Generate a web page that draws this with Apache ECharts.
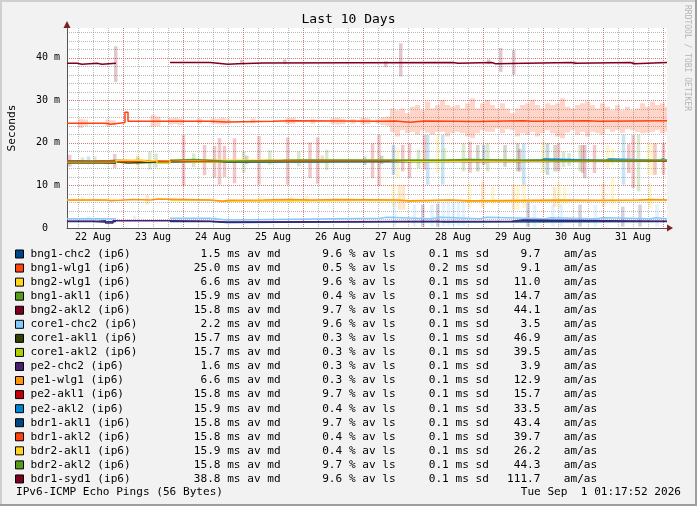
<!DOCTYPE html>
<html>
<head>
<meta charset="utf-8">
<script src="https://cdn.jsdelivr.net/npm/echarts@6.0.0/dist/echarts.min.js"></script>
<style>
  html, body { margin: 0; padding: 0; background: #f2f2f2; }
  #chart { width: 697px; height: 506px; }
</style>
</head>
<body>
<div id="chart"></div>
<script>
'use strict';
// smokeping multi-host graph, last 10 days
// time unit = hours since 22 Aug 00:00
var T0 = 1.6, T_END = 241.6;
var MONO = '"DejaVu Sans Mono"';

var hosts = ['bng1-chc2 (ip6)', 'bng1-wlg1 (ip6)', 'bng2-wlg1 (ip6)', 'bng1-akl1 (ip6)', 'bng2-akl2 (ip6)',
    'core1-chc2 (ip6)', 'core1-akl1 (ip6)', 'core1-akl2 (ip6)', 'pe2-chc2 (ip6)', 'pe1-wlg1 (ip6)',
    'pe2-akl1 (ip6)', 'pe2-akl2 (ip6)', 'bdr1-akl1 (ip6)', 'bdr1-akl2 (ip6)', 'bdr2-akl1 (ip6)',
    'bdr2-akl2 (ip6)', 'bdr1-syd1 (ip6)'];
var hostColors = ['#004586', '#ff420e', '#ffd320', '#579d1c', '#7e0021', '#83caff', '#314004', '#aecf00',
    '#4b1f6f', '#ff950e', '#c5000b', '#0084d1', '#004586', '#ff420e', '#ffd320', '#579d1c', '#7e0021'];

// legend statistics
var avgMedian = [1.5, 25.0, 6.6, 15.9, 15.8, 2.2, 15.7, 15.7, 1.6, 6.6, 15.8, 15.9, 15.8, 15.8, 15.9, 15.8, 38.8];
var avgLoss   = [9.6, 0.5, 9.6, 0.4, 9.7, 9.6, 0.3, 0.3, 0.3, 0.3, 9.7, 0.4, 9.7, 0.4, 0.4, 9.7, 9.6];
var avgSd     = [0.1, 0.2, 0.1, 0.1, 0.1, 0.1, 0.1, 0.1, 0.1, 0.1, 0.1, 0.1, 0.1, 0.1, 0.1, 0.1, 0.1];
var amAs      = [9.7, 9.1, 11.0, 14.7, 44.1, 3.5, 46.9, 39.5, 3.9, 12.9, 15.7, 33.5, 43.4, 39.7, 26.2, 44.3, 111.7];

// median rtt (ms), [hour, value] where the value changes; null = no answer
var medBng1Chc2 = [[1.6,1.5],[12,1.4],[16,1.5],[21.2,null],[42.8,1.5],[58.8,1.3],[65.6,1.5],[150,1.4],[152,1.5]];
var medBng1Wlg1 = [[1.6,24.6],[17,24.4],[19.2,24.8],[24.8,27.2],[26.0,25.1],[58.8,24.9],[65.6,25.1],[84,25.2],[92,25.1],
    [128,25.15],[132.8,24.85],[138.8,25.15],[144.8,25.0],[165.5,25.2],[184,25.1],[188,25.2],[210,25.1],[214,25.2]];
var medBng2Wlg1 = [[1.6,6.5],[21.2,null],[42.8,6.5],[58.8,6.3],[65.6,6.5],[133.5,6.3],[138.8,6.5],[154.8,6.2],[163.5,6.5]];
var medBng1Akl1 = [[1.6,15.5],[10,15.6],[21.2,15.7],[30,15.6],[42.8,15.8],[100,15.9],[160,15.8],[200,15.9]];
var medBng2Akl2 = [[1.6,15.3],[14,15.2],[21.2,null],[42.8,15.8],[160,15.7],[200,15.8]];
var medCore1Chc2 = [[1.6,2.2],[21.2,null],[42.8,2.3],[58.8,1.9],[65.6,2.3],[126.8,2.5],[129.6,2.2],[147,2.5],[151,2.2],
    [166.8,2.5],[169.6,2.2],[193,2.4],[195,2.2],[213,2.4],[216,2.2],[235,2.4],[237,2.2]];
var medCore1Akl1 = [[1.6,15.5],[22,15.3],[26,15.6],[50,15.7],[120,15.6],[180,15.7]];
var medCore1Akl2 = [[1.6,15.6],[24,15.9],[30,15.5],[50,15.7],[150,15.8],[200,15.7]];
var medPe2Chc2 = [[1.6,1.6],[14,1.7],[17,1.2],[20,1.7],[42.8,1.6],[58.8,1.4],[65.6,1.6],[179.5,1.9],[184,1.6]];
var medPe1Wlg1 = [[1.6,6.6],[17,6.4],[19.2,6.7],[28,6.6],[35,6.8],[38,6.6],[58.8,6.3],[64,6.5],[66,6.6],[80,6.7],[90,6.6],
    [100,6.7],[110,6.6],[133.5,6.4],[138.8,6.6],[154.8,6.4],[163.5,6.6],[200,6.5],[212,6.6],[230,6.7],[236,6.6]];
var medPe2Akl1 = [[1.6,15.7],[6,15.6],[12,15.8],[21.2,null],[42.8,15.8]];
var medPe2Akl2 = [[1.6,15.6],[14,15.8],[18,15.9],[22,15.7],[34,15.6],[36,15.5],[42.8,15.8],[60,15.7],[160,15.9],
    [190.8,16.2],[192.4,15.9],[216.8,16.2],[218.4,15.9],[238.4,16.2],[240,15.9]];
var medBdr1Akl1 = [[1.6,15.6],[8,15.5],[16,15.6],[21.2,null],[42.8,15.8],[58.8,15.5],[66,15.8]];
var medBdr1Akl2 = [[1.6,15.7],[10,15.8],[18,15.6],[26,15.7],[30,15.8],[32,15.6],[42.8,15.8],[155,15.6],[161.6,15.8]];
var medBdr2Akl1 = [[1.6,15.4],[21.2,15.9],[28,16.0],[30,15.7],[34,15.9],[37.6,15.2],[42.8,15.9],[130,15.6],[140,15.9]];
var medBdr2Akl2 = [[1.6,15.5],[21.2,null],[42.8,15.9],[44,16.1],[52,15.9],[58.8,15.7],[66,15.9],[88,16.0],[96,15.9],
    [150,16.0],[155,16.1],[161.6,15.9],[185,16.0],[190,15.8],[200,15.9],[215,15.8],[220,15.95]];
var medBdr1Syd1 = [[1.6,38.7],[5.6,38.5],[7.6,38.7],[13.6,38.5],[15.6,38.7],[21.2,null],[42.8,38.9],[58.8,38.5],[66,38.6],
    [70,38.8],[80,38.9],[156,38.7],[158,38.9],[171.5,38.6],[173,38.9],[203.5,38.7],[205,38.9],[227,38.6],[228.5,38.9]];

// smoke: [hour, low, high]
var smokeBng1Wlg1 = [[6,23.5,25.6],[8,24.0,25.5],[17,23.9,25.5],[19,24.2,25.3],[35,23.7,26.6],[37,24.0,26.2],[42,24.3,25.8],
    [44,24.4,25.9],[46,24.2,25.7],[53.6,24.5,25.7],[59,24.5,25.8],[61,24.4,25.7],[63,24.3,25.9],[65,24.5,25.6],[75,24.6,25.7],
    [89,24.4,25.8],[91,24.5,25.9],[99,24.5,25.6],[107,24.4,25.8],[109,24.3,25.9],[111,24.4,25.7],[115,24.5,25.6],[119,24.3,25.9],
    [121,24.4,25.8],[125,24.5,25.5],[127,24.2,26.0],[129,24.0,26.2],
    [130.8,22.6,28.1],[132.8,21.5,27.7],[134.8,23.0,28.1],[136.8,22.3,27.0],[138.8,22.6,28.5],[140.8,21.9,28.9],[142.8,23.0,27.7],
    [144.8,22.4,29.7],[146.8,21.9,28.1],[148.8,22.6,28.9],[150.8,22.6,30.1],[152.8,21.5,28.9],[154.8,22.3,28.5],[156.8,22.6,28.9],
    [158.8,22.3,28.1],[160.8,21.5,29.3],[162.8,21.1,30.5],[164.8,22.3,28.1],[166.8,23.0,29.3],[168.8,22.6,30.1],[170.8,22.6,28.9],
    [172.8,23.4,28.1],[174.8,22.3,29.3],[176.8,23.2,28.1],[178.8,23.0,27.0],[180.8,21.5,28.1],[182.8,22.3,28.9],[184.8,21.9,29.3],
    [186.8,22.6,30.1],[188.8,21.5,28.9],[190.8,22.3,28.1],[192.8,23.0,29.3],[194.8,22.3,28.9],[196.8,21.5,29.3],[198.8,21.1,30.5],
    [200.8,22.4,28.5],[202.8,23.0,28.1],[204.8,21.9,28.9],[206.8,22.6,29.3],[208.8,21.5,29.7],[210.8,22.6,28.9],[212.8,22.3,28.1],
    [214.8,21.9,29.3],[216.8,23.2,28.5],[218.8,22.6,27.7],[220.8,23.0,28.9],[222.8,22.4,27.7],[224.8,23.2,28.5],[226.8,23.0,27.7],
    [228.8,22.6,28.1],[230.8,22.3,29.3],[232.8,22.4,28.5],[234.8,22.6,29.7],[236.8,23.0,28.9],[238.8,22.3,29.3],[240.8,22.6,28.5]];
var smokePe2Akl1 = [[2.0,14.4,17.2],[20,14.1,17.4],[47.5,10.0,21.9],[55.9,12.4,19.5],[59.9,11.8,19.3],[61.9,10.2,21.1],
    [63.9,12.0,19.3],[67.9,10.5,21.1],[77.7,10.2,21.6],[89.2,10.2,21.3],[98.1,11.7,20.1],[101.2,10.4,21.3],[123.1,11.7,19.9],
    [125.7,9.9,21.9],[135.2,13.3,19.5],[137.9,11.7,19.9],[143.9,13.7,21.9],[162.1,13.0,20.3],[197.5,13.3,19.9],[207.1,12.9,19.5],
    [211.9,12.9,19.5],[225.6,12.9,19.7],[227.4,9.4,21.9],[236.1,12.5,19.9],[239.5,12.5,19.9]];
var smokeBng1Akl1 = [[7.1,15.2,16.6],[12,15.0,16.8],[34,13.7,18.0],[36.5,14.2,17.5],[51.6,14.3,17.5],[71.6,13.0,18.0],
    [82,14.9,18.3],[93.6,14.5,18.0],[104.8,13.6,18.4],[141.5,14.1,18.4],[159.5,13.3,19.9],[169.2,13.3,19.9],[199.5,14.3,18.0],
    [201.7,14.6,17.6],[206.1,13.3,19.5],[229.5,8.6,21.9]];
var smokeCore1Akl1 = [[72.8,15.0,17.0],[126.8,15.0,17.0],[165.2,13.3,19.5],[176.1,14.4,19.5],[181.2,13.3,19.9],[196.1,13.3,19.5]];
var smokeCore1Akl2 = [[152,15.4,18.8],[191.5,12.9,20.3]];
var smokePe2Akl2 = [[9.5,15.0,16.8],[29.2,14.8,16.8],[145.2,10.2,21.9],[151.2,10.2,21.9],[183.6,10.2,19.9],[223.5,10.2,21.9]];
var smokeBdr1Akl1 = [[120,14.8,16.8],[131.5,12.5,19.5],[167.6,14.8,19.5],[193.1,12.5,19.9]];
var smokeBng2Akl2 = [[182,13.3,18.6],[208,11.7,19.5]];
var smokeBdr2Akl1 = [[29.2,13.9,17.4],[133.2,11.7,18.8],[149.2,12.9,21.9],[217.2,14.1,19.5],[219.1,14.8,18.6],[233.5,12.5,19.9],
    [235,12.5,19.9]];
var smokeBdr1Akl2 = [[103,15.3,17.0]];
var smokePe1Wlg1 = [[33,5.5,7.8],[133.9,4.3,10.2],[135.5,4.3,10.2],[167.2,4.7,10.9],[179.5,4.3,10.2],[195.9,5.0,9.6],[215.5,5.0,10.5]];
var smokeBng2Wlg1 = [[7.1,6.6,7.4],[78,5.8,7.6],[90.8,5.9,7.5],[96.8,5.8,7.6],[131.5,5.1,10.2],[161.9,4.7,10.5],[171.2,5.5,9.6],
    [181.2,4.3,10.2],[183.7,4.7,10.5],[197.7,4.7,10.9],[199.9,5.5,9.6],[219.1,5.5,11.7],[234.1,4.7,10.5]];
var smokeCore1Chc2 = [[9.5,2.0,2.8],[28,2.0,2.9],[60,1.8,2.8],[131.9,0.3,6.2],[139.9,0.3,5.5],[146.9,0.3,5.5],[151.5,0.3,6.0],
    [153.5,0.5,6.0],[155.5,0.5,6.0],[157.5,0.5,6.0],[159.5,0.5,6.0],[187.9,0.3,5.5],[195.3,0.3,5.5],[198.6,0.3,5.5],
    [212.3,0.3,5.5],[236.9,0.3,5.5]];
var smokePe2Chc2 = [[143.2,0.3,5.5],[149.2,0.3,5.7],[185.3,0.3,5.9],[206.1,0.3,5.5],[223.2,0.3,5.0],[230.1,0.3,5.5]];
var smokeBdr1Syd1 = [[20.4,34.3,42.7],[70.8,38.8,39.5],[88,38.5,39.6],[128.4,37.8,39.2],[134.4,35.6,43.4],[169.6,38.5,39.6],
    [174.4,36.7,42.3],[179.6,36.0,41.8],[204,38.4,39.2],[227.6,38.4,39.2]];

var medians = [medBng1Chc2, medBng1Wlg1, medBng2Wlg1, medBng1Akl1, medBng2Akl2, medCore1Chc2, medCore1Akl1, medCore1Akl2,
    medPe2Chc2, medPe1Wlg1, medPe2Akl1, medPe2Akl2, medBdr1Akl1, medBdr1Akl2, medBdr2Akl1, medBdr2Akl2, medBdr1Syd1];
var smokes = [[], smokeBng1Wlg1, smokeBng2Wlg1, smokeBng1Akl1, smokeBng2Akl2, smokeCore1Chc2, smokeCore1Akl1, smokeCore1Akl2,
    smokePe2Chc2, smokePe1Wlg1, smokePe2Akl1, smokePe2Akl2, smokeBdr1Akl1, smokeBdr1Akl2, smokeBdr2Akl1, [], smokeBdr1Syd1];

var MINOR = 'rgba(140,140,140,0.6)';
var MAJOR = 'rgba(222,79,79,0.6)';

// hold each value until the next change
function stepPoints(cp) {
    var out = [];
    cp.forEach(function (p, i) {
        var tNext = i + 1 < cp.length ? cp[i + 1][0] : T_END;
        if (p[1] == null) { out.push([p[0], null]); return; }
        out.push([p[0], p[1]], [tNext, p[1]]);
    });
    return out;
}

function smokeSeries(data, color, w) {
    return {
        type: 'custom', xAxisIndex: 1, yAxisIndex: 1, silent: true,
        data: data,
        encode: {x: 0, y: [1, 2]},
        renderItem: function (params, api) {
            var t = api.value(0);
            var a = api.coord([t, api.value(2)]);
            var b = api.coord([Math.min(t + w, T_END), api.value(1)]);
            return {
                type: 'rect',
                shape: {x: a[0], y: a[1], width: b[0] - a[0], height: b[1] - a[1]},
                style: {fill: color, opacity: 0.22}
            };
        }
    };
}

var series = [];
smokes.forEach(function (s, i) {
    if (s.length) series.push(smokeSeries(s, hostColors[i], i === 1 ? 2 : 1.4));
});
hosts.forEach(function (h, i) {
    series.push({
        name: h, type: 'line', xAxisIndex: 1, yAxisIndex: 1, silent: true,
        data: stepPoints(medians[i]),
        showSymbol: false, connectNulls: false,
        lineStyle: {color: hostColors[i], width: 1.5},
        itemStyle: {color: hostColors[i]}
    });
});

function pad(v, n) { return v.toFixed(1).padStart(n, ' '); }

var tok = {fontFamily: MONO, fontSize: 11.1, lineHeight: 14, color: '#000'};
function rich(w) { return Object.assign({width: w}, tok); }

var option = {
    backgroundColor: '#f2f2f2',
    animation: false,
    title: {
        text: 'Last 10 Days', left: 'center', top: 13, padding: 0,
        textStyle: {fontFamily: MONO, fontSize: 13, fontWeight: 'normal', color: '#000'}
    },
    grid: {
        left: 67, top: 28, width: 600, height: 200, show: true, backgroundColor: '#ffffff', borderWidth: 0,
        containLabel: false, outerBoundsMode: 'none'
    },
    legend: {
        data: hosts, orient: 'vertical', left: 15, top: 247, icon: 'rect',
        itemWidth: 8, itemHeight: 8, itemGap: 0.06, selectedMode: false, padding: 0,
        itemStyle: {borderColor: '#000', borderWidth: 1},
        textStyle: {
            fontFamily: MONO, fontSize: 11.1, lineHeight: 14, color: '#000', padding: [0, 0, 0, 2],
            rich: {
                n: rich(156.6), v: rich(33.4), u: rich(88.3), v2: rich(33.4), u2: rich(73.2),
                v3: rich(33.4), u3: rich(51.6), v4: rich(63.4), u4: tok
            }
        },
        formatter: function (name) {
            var i = hosts.indexOf(name);
            return '{n|' + name + '}{v|' + pad(avgMedian[i], 5) + '}{u| ms av md}{v2|' + pad(avgLoss[i], 5) +
                '}{u2| % av ls}{v3|' + pad(avgSd[i], 5) + '}{u3| ms sd}{v4|' + pad(amAs[i], 6) + '}{u4|am/as}';
        }
    },
    xAxis: [
        { // 6 hour grid
            type: 'value', position: 'bottom', min: T0, max: T_END, splitNumber: 40, minInterval: 6, maxInterval: 6,
            axisLine: {show: false}, axisTick: {show: false}, axisLabel: {show: false},
            splitLine: {show: true, showMinLine: false, showMaxLine: false, lineStyle: {color: MINOR, width: 1, type: [1, 1]}}
        },
        { // midnight lines
            type: 'value', position: 'bottom', min: T0, max: T_END, splitNumber: 10, minInterval: 24, maxInterval: 24,
            axisLine: {show: true, onZero: false, lineStyle: {color: '#555', width: 1}},
            axisTick: {show: false}, axisLabel: {show: false},
            splitLine: {show: true, showMinLine: false, showMaxLine: false, lineStyle: {color: MAJOR, width: 1, type: [1, 1]}}
        },
        { // day labels at noon
            type: 'value', position: 'bottom', min: T0 + 12, max: T_END + 12, splitNumber: 10, minInterval: 24, maxInterval: 24,
            axisLine: {show: false}, axisTick: {show: false}, splitLine: {show: false},
            axisLabel: {
                show: true, showMinLabel: false, showMaxLabel: false, margin: 4,
                fontFamily: MONO, fontSize: 10, color: '#000',
                formatter: function (v) { return (Math.round(v / 24) + 21) + ' Aug'; }
            }
        }
    ],
    yAxis: [
        {
            type: 'value', position: 'left', min: 0, max: 47, interval: 2,
            axisLine: {show: false}, axisTick: {show: false}, axisLabel: {show: false},
            splitLine: {show: true, showMinLine: false, showMaxLine: false, lineStyle: {color: MINOR, width: 1, type: [1, 1]}}
        },
        {
            type: 'value', position: 'left', min: 0, max: 47, interval: 10,
            name: 'Seconds', nameLocation: 'middle', nameGap: 49,
            nameTextStyle: {fontFamily: MONO, fontSize: 11.1, color: '#000'},
            axisLine: {show: true, onZero: false, lineStyle: {color: '#555', width: 1}},
            axisTick: {show: false},
            axisLabel: {
                showMaxLabel: false, margin: 7, fontFamily: MONO, fontSize: 10, color: '#000',
                formatter: function (v) { return v === 0 ? '0  ' : v + ' m'; }
            },
            splitLine: {show: true, showMinLine: false, showMaxLine: false, lineStyle: {color: MAJOR, width: 1, type: [1, 1]}}
        }
    ],
    graphic: [
        {type: 'rect', shape: {x: 0, y: 0, width: 697, height: 2}, style: {fill: '#cfcfcf'}, silent: true},
        {type: 'rect', shape: {x: 0, y: 0, width: 2, height: 506}, style: {fill: '#cfcfcf'}, silent: true},
        {type: 'rect', shape: {x: 0, y: 504, width: 697, height: 2}, style: {fill: '#9e9e9e'}, silent: true},
        {type: 'rect', shape: {x: 695, y: 0, width: 2, height: 506}, style: {fill: '#9e9e9e'}, silent: true},
        {type: 'polygon', shape: {points: [[63.5, 28], [70.5, 28], [67, 21]]}, style: {fill: '#801f1f'}, silent: true},
        {type: 'polygon', shape: {points: [[667, 224.5], [667, 231.5], [673, 228]]}, style: {fill: '#801f1f'}, silent: true},
        {
            type: 'text', x: 687, y: 5, rotation: -Math.PI / 2, silent: true,
            style: {text: 'RRDTOOL / TOBI OETIKER', fill: '#b4b4b4', font: '8px ' + MONO, textAlign: 'left', textVerticalAlign: 'middle'}
        },
        {
            type: 'text', x: 16, y: 492, silent: true,
            style: {text: 'IPv6-ICMP Echo Pings (56 Bytes)', fill: '#000', font: '11.1px ' + MONO, textAlign: 'left', textVerticalAlign: 'middle'}
        },
        {
            type: 'text', x: 681, y: 492, silent: true,
            style: {text: 'Tue Sep  1 01:17:52 2026', fill: '#000', font: '11.1px ' + MONO, textAlign: 'right', textVerticalAlign: 'middle'}
        }
    ],
    series: series
};

var myChart = echarts.init(document.getElementById('chart'));
myChart.setOption(option);
</script>
</body>
</html>
